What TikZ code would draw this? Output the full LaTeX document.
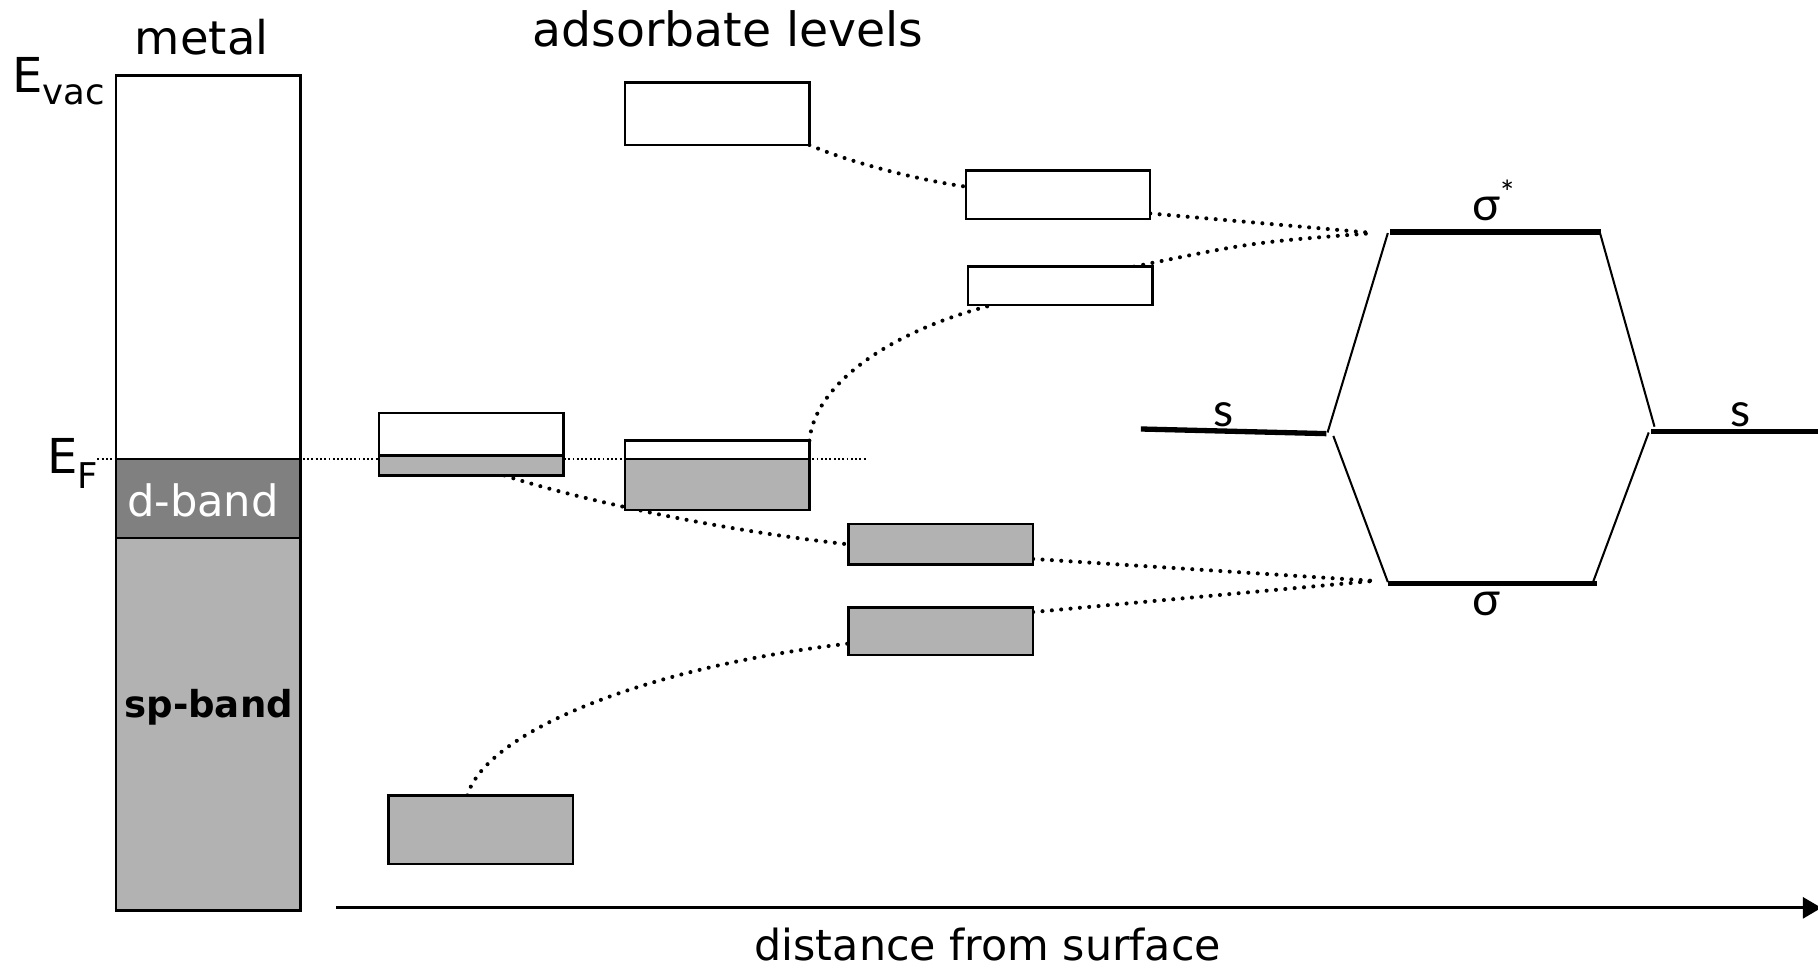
\documentclass[tikz,border=0pt]{standalone}
\usepackage{fontspec}
\setmainfont{DejaVu Sans}
\newfontfamily\gfont{Lato}
\usetikzlibrary{arrows.meta}
\pgfdeclarelayer{bg}
\pgfsetlayers{bg,main}
\definecolor{dgray}{HTML}{808080}
\definecolor{lgray}{HTML}{B2B2B2}
\tikzset{
  lvlbox/.style={draw, line width=0.6pt, inner sep=0pt, outer sep=0pt, anchor=north west, minimum width=1.59cm},
  conn/.style={line width=1pt, dash pattern=on 0pt off 2.3pt, line cap=round},
  efline/.style={line width=0.45pt, dash pattern=on 0.45pt off 0.6pt},
  levelline/.style={line width=1.3pt},
  thinline/.style={line width=0.5pt},
  lbl/.style={inner sep=0pt, font=\fontsize{11.4pt}{13pt}\selectfont},
  glbl/.style={inner sep=0pt, font=\gfont\fontsize{11.4pt}{13pt}\selectfont},
}
\begin{document}
\begin{tikzpicture}[x=0.01cm, y=-0.01cm]
\useasboundingbox (0,0) rectangle (1568,836);

% titles
\node[lbl, anchor=base] (metal) at (174,47) {metal};
\node[lbl, anchor=base, font=\fontsize{11.6pt}{13pt}\selectfont] (ads) at (628,40) {adsorbate levels};
\node[lbl, anchor=base west, font=\fontsize{11.8pt}{13pt}\selectfont] (Evac) at (10,80) {E\raisebox{-0.25em}{\fontsize{8.7pt}{9pt}\selectfont vac}};
\node[lbl, anchor=base west, font=\fontsize{11.8pt}{13pt}\selectfont] (EF) at (40,408) {E\raisebox{-0.33em}{\fontsize{8.7pt}{9pt}\selectfont F}};

% metal column
\node[lvlbox, minimum height=3.31cm] (vac) at (100,65) {};
\node[lvlbox, fill=dgray, minimum height=0.68cm] (dband) at (100,396) {};
\node[inner sep=0pt, text=white, font=\fontsize{10.6pt}{12pt}\selectfont] (dtext) at (175,432) {d-band};
\node[lvlbox, fill=lgray, minimum height=3.21cm] (spband) at (100,464) {};
\node[inner sep=0pt, font=\bfseries\fontsize{9.1pt}{11pt}\selectfont] (sptext) at (180,610) {sp-band};

% adsorbate level boxes
\fill[lgray] (327,393) rectangle (486,410);
\node[lvlbox, minimum height=0.54cm] (A1) at (327,356) {};
\draw[line width=0.6pt] (327,393) -- (486,393);
\fill[lgray] (539,396) rectangle (698,440);
\node[lvlbox, minimum height=0.60cm] (A2) at (539,380) {};
\draw[line width=0.6pt] (539,396) -- (698,396);
\node[lvlbox, fill=lgray, minimum height=0.59cm] (A3) at (335,686) {};
\node[lvlbox, fill=white, minimum height=0.54cm] (B1) at (539,71) {};
\node[lvlbox, fill=white, minimum height=0.42cm] (B2) at (833,147) {};
\node[lvlbox, fill=white, minimum height=0.33cm] (B3) at (835,230) {};
\node[lvlbox, fill=lgray, minimum height=0.35cm] (B4) at (732,452) {};
\node[lvlbox, fill=lgray, minimum height=0.41cm] (B5) at (732,524) {};

% molecular orbital diagram
\coordinate (slL) at (984,370);
\coordinate (slR) at (1144,374);
\coordinate (ssL) at (1199,200);
\coordinate (ssR) at (1381,200);
\coordinate (sgL) at (1197,503);
\coordinate (sgR) at (1377,503);
\coordinate (srL) at (1424,372);
\coordinate (srR) at (1568,372);
\coordinate (tA1) at (1145,373);
\coordinate (tA2) at (1197,201);
\coordinate (tB1) at (1150,376);
\coordinate (tB2) at (1197,502);
\coordinate (tC1) at (1380,201);
\coordinate (tC2) at (1427,368);
\coordinate (tD1) at (1422,373);
\coordinate (tD2) at (1374,502);
\coordinate (jsU) at (1185,201);
\coordinate (jsL) at (1185,501);

\draw[levelline] (slL) -- (slR);
\draw[levelline] (ssL) -- (ssR);
\draw[levelline] (sgL) -- (sgR);
\draw[levelline] (srL) -- (srR);
\draw[thinline] (tA1) -- (tA2);
\draw[thinline] (tB1) -- (tB2);
\draw[thinline] (tC1) -- (tC2);
\draw[thinline] (tD1) -- (tD2);

\node[glbl, anchor=base] (sigs) at (1289,190) {σ\textsuperscript{*}};
\node[glbl, anchor=base] (sig) at (1282,531) {σ};
\node[glbl, anchor=base] (sL) at (1055,368) {s};
\node[glbl, anchor=base] (sR) at (1501,368) {s};

% connectors (behind boxes)
\begin{pgfonlayer}{bg}
\draw[efline] (84,396) -- (747,396);
\draw[conn] (B1.south east) .. controls (730,139) and (790,155) .. ([yshift=2pt]B2.west);
\draw[conn] ([yshift=1.4pt]B2.south east) -- (jsU);
\draw[conn] ([xshift=-0.16cm]B3.north east) .. controls (1080,209) .. (jsU);
\draw[conn] (A2.north east) .. controls (703,330) and (770,285) .. ([xshift=0.21cm]B3.south west);
\draw[conn] ([xshift=1.08cm]A1.south west) .. controls (480,425) and (600,455) .. (B4.west);
\draw[conn] ([yshift=1.4pt]B4.south east) -- (jsL);
\draw[conn] ([yshift=-1.1pt]B5.north east) -- (jsL);
\draw[conn] ([xshift=0.68cm]A3.north west) .. controls (420,630) and (560,575) .. ([yshift=-3pt]B5.west);
\end{pgfonlayer}

% axis
\coordinate (axL) at (290,783);
\coordinate (axR) at (1571,783);
\draw[line width=0.75pt, -{Triangle[length=0.16cm,width=0.18cm]}] (axL) -- (axR);
\node[lbl, anchor=base, font=\fontsize{10.5pt}{12pt}\selectfont] (dist) at (852,828) {distance from surface};
\end{tikzpicture}
\end{document}
